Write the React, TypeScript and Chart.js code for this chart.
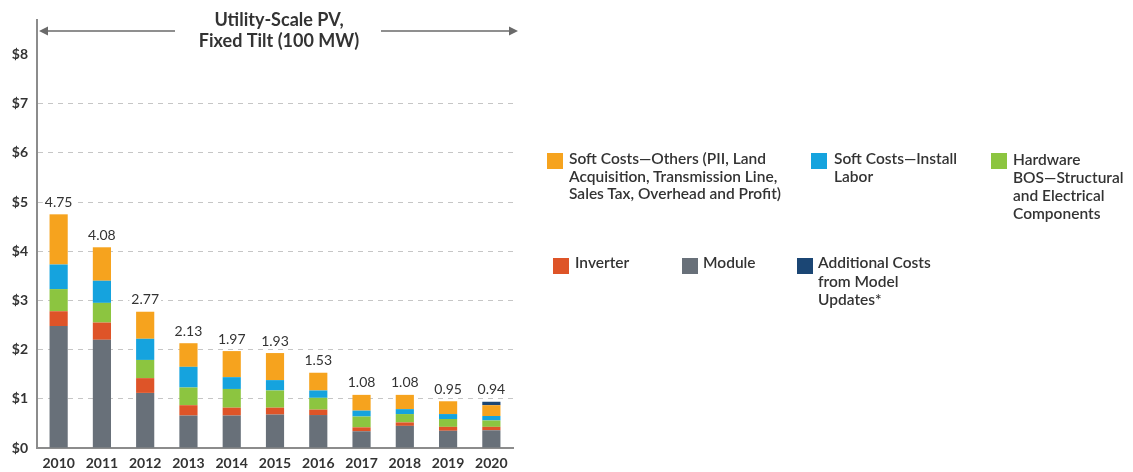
import React, { useEffect, useRef } from "react";
import { Chart, registerables } from "chart.js";

Chart.register(...registerables);

// Installed cost of utility-scale PV (fixed tilt, 100 MW), $/W
const categories = ["2010", "2011", "2012", "2013", "2014", "2015", "2016", "2017", "2018", "2019", "2020"];
const moduleCost = [2.48, 2.2, 1.12, 0.66, 0.66, 0.68, 0.67, 0.34, 0.45, 0.35, 0.36];
const inverterCost = [0.3, 0.35, 0.3, 0.21, 0.16, 0.14, 0.11, 0.08, 0.07, 0.08, 0.07];
const hardwareBos = [0.45, 0.4, 0.37, 0.36, 0.38, 0.35, 0.24, 0.22, 0.17, 0.16, 0.13];
const installLabor = [0.5, 0.45, 0.43, 0.42, 0.24, 0.21, 0.15, 0.12, 0.1, 0.1, 0.09];
const softOthers = [1.02, 0.68, 0.55, 0.48, 0.53, 0.55, 0.36, 0.32, 0.29, 0.26, 0.22];
const additionalCosts = [0, 0, 0, 0, 0, 0, 0, 0, 0, 0, 0.07];
const yTickValues = [0, 1, 2, 3, 4, 5, 6, 7, 8];

const COLORS = {
  module: "#687079",
  inverter: "#de5428",
  bos: "#8cc540",
  labor: "#15a3de",
  others: "#f6a31e",
  additional: "#1b4674",
};

const FONT = "Lato, 'Open Sans', sans-serif";
const TEXT = "#333333";

const series = [
  { label: "Module", data: moduleCost, color: COLORS.module },
  { label: "Inverter", data: inverterCost, color: COLORS.inverter },
  { label: "Hardware BOS—Structural and Electrical Components", data: hardwareBos, color: COLORS.bos },
  { label: "Soft Costs—Install Labor", data: installLabor, color: COLORS.labor },
  { label: "Soft Costs—Others (PII, Land Acquisition, Transmission Line, Sales Tax, Overhead and Profit)", data: softOthers, color: COLORS.others },
  { label: "Additional Costs from Model Updates*", data: additionalCosts, color: COLORS.additional },
];

const totals = categories.map((_, i) =>
  Math.round(series.reduce((s, d) => s + d.data[i], 0) * 100) / 100
);

// Legend entries: colour, lines of text, swatch position, text position
const legendItems = [
  { color: COLORS.others, lines: ["Soft Costs—Others (PII, Land", "Acquisition, Transmission Line,", "Sales Tax, Overhead and Profit)"], sx: 547, sy: 153, tx: 569, ty: 150, lh: 17.5 },
  { color: COLORS.labor, lines: ["Soft Costs—Install", "Labor"], sx: 811, sy: 153, tx: 834, ty: 150, lh: 17.5 },
  { color: COLORS.bos, lines: ["Hardware", "BOS—Structural", "and Electrical", "Components"], sx: 991, sy: 153, tx: 1013, ty: 150, lh: 18 },
  { color: COLORS.inverter, lines: ["Inverter"], sx: 553, sy: 258, tx: 575, ty: 253, lh: 18.5 },
  { color: COLORS.module, lines: ["Module"], sx: 682, sy: 258, tx: 703, ty: 253, lh: 18.5 },
  { color: COLORS.additional, lines: ["Additional Costs", "from Model", "Updates*"], sx: 797, sy: 258, tx: 818, ty: 253, lh: 18.5 },
];

const overlayPlugin = {
  id: "overlay",
  afterDatasetsDraw(chart: any) {
    const { ctx } = chart;
    const y = chart.scales.y;
    const meta = chart.getDatasetMeta(0);
    ctx.save();
    ctx.font = `400 14px ${FONT}`;
    ctx.textAlign = "center";
    ctx.textBaseline = "middle";
    totals.forEach((t, i) => {
      const bar = meta.data[i];
      const px = bar.x;
      const py = y.getPixelForValue(t) - 12;
      const label = t.toFixed(2);
      const w = ctx.measureText(label).width;
      ctx.fillStyle = "#ffffff";
      ctx.fillRect(px - w / 2 - 2, py - 7, w + 4, 14);
      ctx.fillStyle = TEXT;
      ctx.fillText(label, px, py);
    });
    ctx.restore();
  },
  afterDraw(chart: any) {
    const { ctx } = chart;
    ctx.save();
    // heading
    ctx.fillStyle = TEXT;
    ctx.font = `700 18px ${FONT}`;
    ctx.textAlign = "center";
    ctx.textBaseline = "middle";
    const cx = 279;
    ctx.fillText("Utility-Scale PV,", cx, 20);
    ctx.fillText("Fixed Tilt (100 MW)", cx, 41);
    // span arrows
    ctx.strokeStyle = "#6a6a6a";
    ctx.fillStyle = "#6a6a6a";
    ctx.lineWidth = 1.6;
    const ay = 31;
    const seg = (x1: number, x2: number) => {
      ctx.beginPath();
      ctx.moveTo(x1, ay);
      ctx.lineTo(x2, ay);
      ctx.stroke();
    };
    seg(44, 175);
    seg(381, 512);
    ctx.beginPath();
    ctx.moveTo(39, ay);
    ctx.lineTo(48, ay - 4.5);
    ctx.lineTo(48, ay + 4.5);
    ctx.closePath();
    ctx.fill();
    ctx.beginPath();
    ctx.moveTo(518, ay);
    ctx.lineTo(509, ay - 4.5);
    ctx.lineTo(509, ay + 4.5);
    ctx.closePath();
    ctx.fill();
    ctx.restore();
  },
};

export default function App() {
  const canvasRef = useRef<HTMLCanvasElement | null>(null);

  useEffect(() => {
    document.body.style.margin = "0";
    const canvas = canvasRef.current;
    if (!canvas) return;
    const chart = new Chart(canvas, {
      type: "bar",
      data: {
        labels: categories,
        datasets: series.map((s) => ({
          label: s.label,
          data: s.data,
          backgroundColor: s.color,
          borderWidth: 0,
          barPercentage: 0.42,
          categoryPercentage: 1,
          stack: "cost",
        })),
      },
      options: {
        responsive: false,
        maintainAspectRatio: false,
        animation: false,
        layout: { padding: { left: 0, top: 20, right: 620, bottom: 0 } },
        plugins: {
          legend: { display: false },
          title: { display: false },
          tooltip: { enabled: false },
        },
        scales: {
          x: {
            stacked: true,
            grid: { display: false, drawTicks: false },
            border: { display: true, color: "#8c8c8c", width: 2 },
            ticks: {
              color: TEXT,
              font: { family: FONT, size: 14, weight: "bold" },
              padding: 7,
              maxRotation: 0,
            },
            afterFit: (scale: any) => {
              scale.height = 24;
            },
          },
          y: {
            stacked: true,
            min: 0,
            max: 8.7,
            afterBuildTicks: (scale: any) => {
              scale.ticks = yTickValues.map((v) => ({ value: v }));
            },
            grid: {
              drawTicks: false,
              color: (c: any) =>
                c.tick && c.tick.value > 0 && c.tick.value < 8 ? "#c6c6c6" : "rgba(0,0,0,0)",
              lineWidth: 1,
            },
            border: { display: true, color: "#8c8c8c", width: 2, dash: [5, 5] },
            ticks: {
              color: TEXT,
              font: { family: FONT, size: 14, weight: "bold" },
              padding: 9,
              callback: (v: any) => `$${v}`,
            },
            afterFit: (scale: any) => {
              scale.width = 37;
            },
          },
        },
      },
      plugins: [overlayPlugin],
    });
    return () => chart.destroy();
  }, []);

  return (
    <div style={{ position: "relative", width: 1133, height: 472, background: "#ffffff", fontFamily: FONT }}>
      <canvas ref={canvasRef} width={1133} height={472} style={{ position: "absolute", left: 0, top: 0, width: 1133, height: 472 }} />
      {legendItems.map((it, i) => (
        <React.Fragment key={i}>
          <div
            style={{ position: "absolute", left: it.sx, top: it.sy, width: 16, height: 16, background: it.color }}
          />
          <div
            style={{
              position: "absolute",
              left: it.tx,
              top: it.ty,
              fontSize: 15.5,
              fontWeight: 600,
              lineHeight: `${it.lh}px`,
              color: TEXT,
              whiteSpace: "nowrap",
            }}
          >
            {it.lines.map((l, j) => (
              <div key={j}>{l}</div>
            ))}
          </div>
        </React.Fragment>
      ))}
    </div>
  );
}
